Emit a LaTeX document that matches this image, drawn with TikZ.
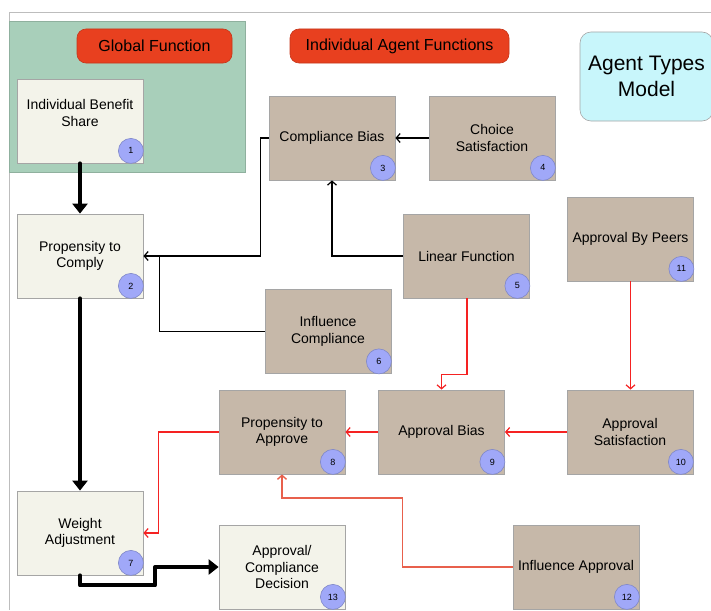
\documentclass[tikz,border=0pt]{standalone}
\usepackage{fontspec}
\setmainfont{Liberation Sans}
\usetikzlibrary{arrows.meta}
\definecolor{framec}{HTML}{BDBDBD}
\definecolor{greenbg}{HTML}{A8CFBA}
\definecolor{pillc}{HTML}{E8401F}
\definecolor{cyanbox}{HTML}{C8F6FB}
\definecolor{lightbox}{HTML}{F3F3EA}
\definecolor{brownbox}{HTML}{C6B8A9}
\definecolor{boxline}{HTML}{A5A5A5}
\definecolor{badgec}{HTML}{A0A8F8}
\definecolor{badgeline}{HTML}{8088C8}
\definecolor{redline}{HTML}{F52222}
\definecolor{salmonline}{HTML}{E8604C}
\tikzset{
  box/.style={draw=boxline, line width=0.8pt, minimum width=126pt, minimum height=84pt, inner sep=0pt, align=center, font=\fontsize{14}{16.5}\selectfont},
  lbox/.style={box, fill=lightbox},
  bbox/.style={box, fill=brownbox},
  badgenode/.style={circle, draw=badgeline, line width=0.6pt, fill=badgec, minimum size=25pt, inner sep=0pt, font=\fontsize{9}{10}\selectfont},
  pillnode/.style={rounded corners=9pt, fill=pillc, draw=pillc!85!black, line width=0.6pt, minimum height=34pt, inner sep=0pt, font=\fontsize{16}{18}\selectfont},
  thickarrow/.style={line width=4pt, line join=round, line cap=round, -{Triangle[length=10pt,width=15pt]}},
  blackarrow/.style={line width=1.2pt, -{Straight Barb[length=4pt,width=9pt]}},
  blackline/.style={line width=1.2pt},
  redarrow/.style={line width=1.2pt, draw=redline, -{Straight Barb[length=4pt,width=9pt]}},
  salmonarrow/.style={line width=1.4pt, draw=salmonline, -{Straight Barb[length=4pt,width=9pt]}},
}
\begin{document}
\begin{tikzpicture}[x=1pt,y=-1pt]
\useasboundingbox (0,0) rectangle (711,610);
% frame
\draw[framec, line width=0.8pt] (9,610) -- (9,12) -- (711,12);
% green area
\fill[greenbg] (9,21) rectangle (245,172);
\draw[greenbg!85!black, line width=0.5pt] (9,21) rectangle (245,172);
% titles
\node[pillnode, minimum width=155pt] (tg) at (154.5,46) {Global Function};
\node[pillnode, minimum width=219pt] (ta) at (399.5,46) {Individual Agent Functions};
\node[rounded corners=11pt, fill=cyanbox, draw=boxline, line width=0.6pt, minimum width=133pt, minimum height=89pt, inner sep=0pt, align=center, font=\fontsize{21}{26}\selectfont] (tm) at (646.5,76.5) {Agent Types\\Model};
% boxes
\node[lbox] (n1) at (80,121) {};
\node[font=\fontsize{14}{16.5}\selectfont, align=center] (t1) at (80,113) {Individual Benefit\\Share};
\node[lbox] (n2) at (80,256) {Propensity to\\Comply};
\node[bbox] (n3) at (332,138) {Compliance Bias};
\node[bbox] (n4) at (492,138) {Choice\\Satisfaction};
\node[bbox] (n5) at (466.5,256) {Linear Function};
\node[bbox] (n6) at (328,331.5) {Influence\\Compliance};
\node[lbox] (n7) at (80,533) {Weight\\Adjustment};
\node[bbox] (n8) at (282,432) {Propensity to\\Approve};
\node[bbox] (n9) at (441.5,432) {Approval Bias};
\node[bbox] (n10) at (630,432) {Approval\\Satisfaction};
\node[bbox] (n11) at (630.5,239) {Approval By Peers};
\node[bbox] (n12) at (576,567) {Influence Approval};
\node[lbox] (n13) at (282,567) {Approval/\\Compliance\\Decision};
% connectors
\draw[thickarrow] (n1.south) -- (n2.north);
\draw[thickarrow] (n2.south) -- (n7.north);
\draw[thickarrow] (n7.south) -- ++(0,10) -- ++(75,0) |- (n13.west);
\draw[blackarrow] (n3.west) -- ++(-8,0) |- (n2.east);
\draw[blackline] (n6.west) -| ([xshift=16pt]n2.east);
\draw[blackarrow] (n5.west) -| (n3.south);
\draw[blackarrow] (n4.west) -- (n3.east);
\draw[redarrow] ([xshift=0.5pt]n5.south) -- ++(0,76) -| (n9.north);
\draw[redarrow] (n11.south) -- (n11.south |- n10.north);
\draw[redarrow] (n10.west) -- (n9.east);
\draw[redarrow] (n9.west) -- (n8.east);
\draw[redarrow] (n8.west) -- ++(-60,0) |- (n7.east);
\draw[salmonarrow] (n12.west) -- ++(-110,0) -- ++(0,-69) -| (n8.south);
% badges
\node[badgenode] (b1) at ([xshift=-12.5pt,yshift=12.5pt]n1.south east) {1};
\node[badgenode] (b2) at ([xshift=-12.5pt,yshift=12.5pt]n2.south east) {2};
\node[badgenode] (b3) at ([xshift=-12.5pt,yshift=12.5pt]n3.south east) {3};
\node[badgenode] (b4) at ([xshift=-12.5pt,yshift=12.5pt]n4.south east) {4};
\node[badgenode] (b5) at ([xshift=-12.5pt,yshift=12.5pt]n5.south east) {5};
\node[badgenode] (b6) at ([xshift=-12.5pt,yshift=12.5pt]n6.south east) {6};
\node[badgenode] (b7) at ([xshift=-12.5pt,yshift=12.5pt]n7.south east) {7};
\node[badgenode] (b8) at ([xshift=-12.5pt,yshift=12.5pt]n8.south east) {8};
\node[badgenode] (b9) at ([xshift=-12.5pt,yshift=12.5pt]n9.south east) {9};
\node[badgenode] (b10) at ([xshift=-12.5pt,yshift=12.5pt]n10.south east) {10};
\node[badgenode] (b11) at ([xshift=-12.5pt,yshift=12.5pt]n11.south east) {11};
\node[badgenode] (b12) at ([xshift=-12.5pt,yshift=12.5pt]n12.south east) {12};
\node[badgenode] (b13) at ([xshift=-12.5pt,yshift=12.5pt]n13.south east) {13};
\end{tikzpicture}
\end{document}
